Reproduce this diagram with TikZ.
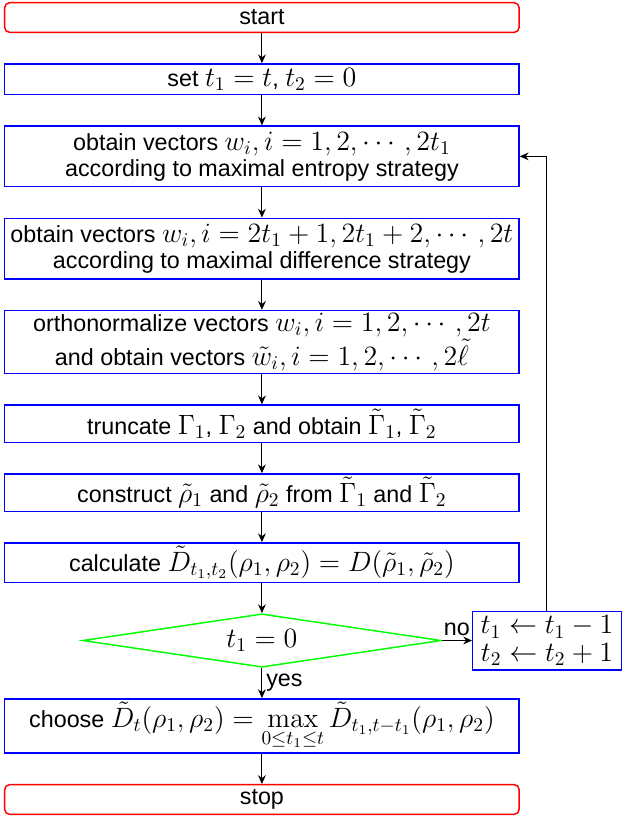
\documentclass[tikz,border=0pt]{standalone}
\usepackage{amsmath,amssymb}
\usepackage[no-math]{fontspec}
\setsansfont{Liberation Sans}
\DeclareMathSizes{12}{14.4}{10}{7}
\usetikzlibrary{arrows.meta,positioning,shapes.geometric}
\tikzset{
  term/.style={draw=red, rectangle, rounded corners=2.5pt, align=center, font=\sffamily\fontsize{12}{14}\selectfont, minimum width=264.9pt, minimum height=15.25pt, inner sep=1.5pt, line width=0.75pt},
  box/.style={draw=blue, rectangle, align=center, font=\sffamily\fontsize{12}{13.4}\selectfont, minimum width=264.9pt, inner sep=1.5pt, line width=0.75pt},
  test/.style={draw=green, diamond, aspect=6.8, font=\sffamily\fontsize{12}{14}\selectfont, minimum width=184.6pt, minimum height=27.5pt, inner sep=0pt, line width=0.75pt},
  arr/.style={-{Stealth[length=4.5pt,width=4pt]}, line width=0.5pt},
  lbl/.style={font=\sffamily\fontsize{12}{14}\selectfont, inner sep=2pt},
}
\begin{document}
\begin{tikzpicture}[node distance=15.5pt]
\node[term] (start) {start};
\useasboundingbox ([xshift=-2.06pt, yshift=1.03pt]start.north west) rectangle ++(320.8pt,-422.8pt);
\node[box, below=of start, minimum height=15.75pt] (set) {set $t_1=t$, $t_2=0$};
\node[box, below=of set, minimum height=31.25pt] (ob1) {obtain vectors $w_i, i=1,2,\cdots,2t_1$\\according to maximal entropy strategy};
\node[box, below=of ob1, minimum height=31.25pt] (ob2) {obtain vectors $w_i, i=2t_1+1,2t_1+2,\cdots,2t$\\according to maximal difference strategy};
\node[box, below=of ob2, minimum height=31.25pt] (orth) {orthonormalize vectors $w_i, i=1,2,\cdots,2t$\\and obtain vectors $\tilde{w}_i, i=1,2,\cdots,2\tilde{\ell}$};
\node[box, below=of orth, minimum height=19.25pt] (trunc) {truncate $\Gamma_1$, $\Gamma_2$ and obtain $\tilde{\Gamma}_1$, $\tilde{\Gamma}_2$};
\node[box, below=of trunc, minimum height=19.25pt] (cons) {construct $\tilde{\rho}_1$ and $\tilde{\rho}_2$ from $\tilde{\Gamma}_1$ and $\tilde{\Gamma}_2$};
\node[box, below=of cons, minimum height=19.25pt] (calc) {calculate $\tilde{D}_{t_1,t_2}(\rho_1,\rho_2)=D(\tilde{\rho}_1,\tilde{\rho}_2)$};
\node[test, below=of calc] (dec) {$t_1=0$};
\node[box, right=15.5pt of dec, minimum width=76.5pt, minimum height=30.15pt, font=\sffamily\fontsize{12}{14}\selectfont] (upd) {$t_1\leftarrow t_1-1$\\$t_2\leftarrow t_2+1$};
\node[box, below=of dec, minimum height=27pt] (choose) {choose $\tilde{D}_t(\rho_1,\rho_2)=\max\limits_{0\le t_1\le t}\tilde{D}_{t_1,t-t_1}(\rho_1,\rho_2)$};
\node[term, below=of choose] (stop) {stop};
\foreach \a/\b in {start/set,set/ob1,ob1/ob2,ob2/orth,orth/trunc,trunc/cons,cons/calc,calc/dec,choose/stop}
  \draw[arr] (\a) -- (\b);
\draw[arr] (dec) -- node[lbl, right] {yes} (choose);
\draw[arr] (dec.east) -- node[lbl, above] {no} (upd.west);
\draw[arr] (upd.north) |- (ob1.east);
\end{tikzpicture}
\end{document}
